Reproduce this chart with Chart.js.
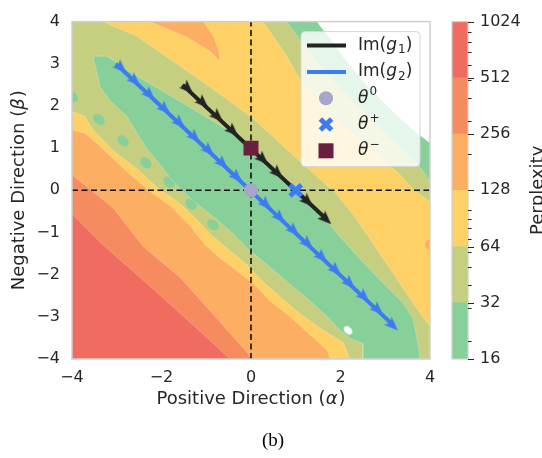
<!DOCTYPE html>
<html>
<head>
<meta charset="utf-8">
<script src="https://cdn.jsdelivr.net/npm/chart.js@4.4.1/dist/chart.umd.min.js"></script>
<style>
  html, body { margin: 0; padding: 0; background: #fff; overflow: hidden; }
  #wrap { position: relative; width: 542px; height: 458px; }
  #main { position: absolute; left: 0; top: 0; }
  #cbar { position: absolute; left: 440px; top: 0; }
</style>
</head>
<body>
<div id="wrap">
  <canvas id="main" width="542" height="458"></canvas>
  <canvas id="cbar" width="102" height="458"></canvas>
</div>
<script>
// perplexity levels of the filled contours (colorbar)
const levels = [16, 32, 64, 128, 256, 512, 1024];
const minorTicks = [20, 30, 40, 50, 60, 70, 80, 90, 100, 200, 300, 400, 500, 600, 700, 800, 900];

// contour edges, as [alpha, beta]
const edge512 = [[-4, -0.56], [-3.31, -1.29], [-2.26, -2.27], [-1.36, -3.13], [-0.47, -4]];
const edge256 = [[-4, 0.37], [-3.08, -0.42], [-2.41, -1.33], [-1.59, -2.06], [-0.92, -2.85], [-0.47, -3.39], [0.04, -4]];
const edge128 = [[-4, 1.43], [-3.71, 1.36], [-3.31, 0.98], [-2.77, 0.44], [-2.26, -0.02], [-1.77, -0.40], [-1.36, -0.84],
  [-1.03, -1.29], [-0.65, -1.64], [-0.25, -1.96], [0.09, -2.25], [0.42, -2.62], [0.87, -2.99], [1.47, -3.56], [1.70, -3.79], [1.77, -4]];
const patch128 = [[-2.26, 4], [-1.43, 3.63], [-0.92, 3.30], [-0.69, 3.06], [-0.72, 3.30], [-0.85, 3.68], [-1.07, 4]];
const edge64Low = [[-4, 1.87], [-3.71, 1.75], [-3.53, 1.43], [-3.08, 0.94], [-2.55, 0.51], [-2.10, 0.07], [-1.65, -0.26],
  [-1.25, -0.65], [-0.92, -1.03], [-0.51, -1.40], [-0.13, -1.73], [0.25, -2.15], [0.58, -2.46], [1.09, -2.92], [1.61, -3.32], [2.06, -3.60], [2.21, -4]];
const edge64High = [[-3.31, 4], [-2.55, 3.65], [-1.81, 3.11], [-1.07, 2.57], [-0.47, 2.11], [0.09, 1.66], [0.76, 1.01],
  [1.32, 0.47], [1.88, -0.05], [2.32, -0.63], [2.77, -1.33], [3.22, -2.04], [3.66, -2.74], [4, -3.23]];
const edge64Corner = [[0.27, 4], [0.54, 3.58], [0.80, 3.18], [1.09, 2.64], [1.54, 2.06], [2.10, 1.47], [2.77, 0.89], [3.33, 0.37], [3.66, 0], [4, -0.28]];
const edge32Low = [[-3.53, 3.18], [-3.37, 2.46], [-3.15, 2.13], [-2.77, 1.75], [-2.55, 1.36], [-2.32, 0.98], [-2.03, 0.61],
  [-1.74, 0.21], [-1.36, -0.19], [-0.92, -0.56], [-0.47, -0.96], [-0.07, -1.38], [0.42, -1.82], [0.87, -2.22], [1.32, -2.62],
  [1.70, -2.99], [1.99, -3.32], [2.21, -3.51], [2.50, -3.63], [2.50, -4]];
const edge32High = [[-3.53, 3.18], [-3.22, 3.18], [-2.55, 2.71], [-1.81, 2.25], [-1.07, 1.78], [-0.47, 1.40], [0.20, 0.84],
  [0.87, 0.19], [1.43, -0.40], [1.99, -1.10], [2.48, -1.68], [2.95, -2.20], [3.40, -2.67], [3.62, -3.04], [3.71, -3.51], [3.78, -4]];
const edge32Corner = [[0.80, 4], [1.09, 3.58], [1.43, 3.11], [1.88, 2.53], [2.44, 1.94], [2.99, 1.36], [3.44, 0.89], [3.78, 0.54], [4, 0.23]];
const edge16Corner = [[1.47, 4], [1.77, 3.58], [2.10, 3.11], [2.55, 2.53], [2.99, 2.06], [3.33, 1.71], [3.66, 1.40], [4, 1.12]];
const islands32 = [[-4, 2.22], [-3.40, 1.68], [-2.86, 1.17], [-2.35, 0.65], [-1.83, 0.19], [-1.34, -0.33], [-0.85, -0.82]];
const islands16 = [[2.17, -3.32]];
const islands128 = [[4, -1.29]];

// reference axes through theta^0
const zeroAlpha = [[0, -4], [0, 4]];
const zeroBeta = [[-4, 0], [4, 0]];

// Im(g1), Im(g2) paths and their arrow heads
const g1Path = [[-1.53, 2.5], [1.7, -0.7]];
const g1Arrows = [[-1.41, 2.41], [-1.07, 2.07], [-0.74, 1.74], [-0.40, 1.40], [0.27, 0.73], [0.60, 0.40], [1.27, -0.27], [1.68, -0.69]];
const g2Path = [[-3.02, 3.0], [3.2, -3.22]];
const g2Arrows = [[-2.90, 2.90], [-2.59, 2.59], [-2.26, 2.26], [-1.92, 1.92], [-1.59, 1.59], [-1.25, 1.25], [-0.94, 0.94],
  [-0.63, 0.63], [-0.31, 0.31], [0.34, -0.34], [0.65, -0.65], [0.96, -0.96], [1.27, -1.27], [1.59, -1.59], [1.90, -1.90],
  [2.21, -2.21], [2.53, -2.53], [2.84, -2.84], [3.17, -3.21]];

const theta0 = [[0, 0]];
const thetaPlus = [[1, 0]];
const thetaMinus = [[0, 1]];

const fontFamily = '"DejaVu Sans", sans-serif';
const ink = '#262626';
const bandColors = ['#88d09a', '#c6cf80', '#fed167', '#fcae63', '#f68b60', '#f16c60'];
const g1Color = '#232323';
const g2Color = '#3b7cf4';
const c0 = '#a7a5c8';
const cMinus = '#6b1f3e';

Chart.defaults.font.family = fontFamily;

const toPts = arr => arr.map(p => ({ x: p[0], y: p[1] }));
const corners = [[4, -4], [4, 4], [-4, 4]];
const plotBox = [[-4, -4], [4, -4], [4, 4], [-4, 4]];

function band(poly, color, order) {
  return {
    data: toPts(poly), showLine: true, fill: 'shape', backgroundColor: color,
    borderColor: 'rgba(255,255,255,0.35)', borderWidth: 0.6, pointRadius: 0, tension: 0, order: order
  };
}

function spots(pts, color, r, order) {
  return { data: toPts(pts), pointStyle: 'circle', pointRadius: r, backgroundColor: color, borderWidth: 0, order: order };
}

// oval pocket, long side along the valley
function oval(color, w, h) {
  const c = document.createElement('canvas');
  c.width = w; c.height = h;
  const g = c.getContext('2d');
  g.fillStyle = color;
  g.beginPath();
  g.ellipse(w / 2, h / 2, w / 2 - 0.3, h / 2 - 0.3, 0, 0, Math.PI * 2);
  g.fill();
  return c;
}

function pockets(pts, style, order) {
  return { data: toPts(pts), pointStyle: style, pointRotation: 43.7, pointRadius: 6, order: order };
}

// small dart used as the arrow head marker
function arrowHead(color) {
  const c = document.createElement('canvas');
  c.width = 14; c.height = 11;
  const g = c.getContext('2d');
  g.fillStyle = color;
  g.beginPath();
  g.moveTo(14, 5.5); g.lineTo(0, 0); g.lineTo(3, 5.5); g.lineTo(0, 11);
  g.closePath();
  g.fill();
  return c;
}

function arrows(pts, color) {
  return { data: toPts(pts), pointStyle: arrowHead(color), pointRotation: 43.7, pointRadius: 6, order: 5 };
}

function path(pts, color, width, dash, order) {
  return {
    data: toPts(pts), showLine: true, borderColor: color, borderWidth: width, borderDash: dash || [],
    pointRadius: 0, fill: false, order: order
  };
}

const minus = v => (v < 0 ? '\u2212' + Math.abs(v) : String(v));

const datasets = [
  band(plotBox, bandColors[5], 30),
  band(edge512.concat(corners), bandColors[4], 29),
  band(edge256.concat(corners), bandColors[3], 28),
  band(edge128.concat(corners), bandColors[2], 27),
  band(patch128, bandColors[3], 26),
  spots(islands128, bandColors[3], 5, 25),
  band(edge64Low.concat([[4, -4]], edge64High.slice().reverse(), [[-4, 4]]), bandColors[1], 24),
  band(edge64Corner.concat([[4, 4]]), bandColors[1], 23),
  pockets(islands32, oval(bandColors[0], 14, 10), 22),
  band(edge32Low.concat(edge32High.slice().reverse()), bandColors[0], 21),
  band(edge32Corner.concat([[4, 4]]), bandColors[0], 20),
  band(edge16Corner.concat([[4, 4]]), '#ffffff', 19),
  pockets(islands16, oval('#ffffff', 10, 7), 18),
  path(zeroAlpha, '#111111', 1.6, [6, 3.5], 12),
  path(zeroBeta, '#111111', 1.6, [6, 3.5], 12),
  path(g1Path, g1Color, 4, null, 8),
  path(g2Path, g2Color, 4, null, 8),
  arrows(g1Arrows, g1Color),
  arrows(g2Arrows, g2Color),
  { data: toPts(theta0), pointStyle: 'circle', pointRadius: 7, backgroundColor: c0, borderWidth: 0, order: 2 },
  { data: toPts(thetaPlus), pointStyle: 'crossRot', pointRadius: 8, borderColor: g2Color, borderWidth: 5, order: 1 },
  { data: toPts(thetaMinus), pointStyle: 'rect', pointRadius: 10.6, backgroundColor: cMinus, borderWidth: 0, order: 1 }
];

// rich text: [text, kind] where kind is '', 'i', 'sub' or 'sup'
function richFont(kind, size) {
  const small = kind === 'sub' || kind === 'sup';
  return (kind === 'i' ? 'italic ' : '') + (small ? Math.round(size * 0.7) : size) + 'px ' + fontFamily;
}

function richWidth(ctx, parts, size) {
  let w = 0;
  for (const [t, kind] of parts) {
    ctx.font = richFont(kind, size);
    w += ctx.measureText(t).width + (kind === 'i' ? 1 : 0);
  }
  return w;
}

function drawRich(ctx, parts, x, y, size) {
  for (const [t, kind] of parts) {
    ctx.font = richFont(kind, size);
    const dy = kind === 'sub' ? size * 0.27 : kind === 'sup' ? -size * 0.36 : 0;
    ctx.fillText(t, x, y + dy);
    x += ctx.measureText(t).width + (kind === 'i' ? 1 : 0);
  }
}

const legendRows = [
  { mark: 'line', color: g1Color, text: [['Im(', ''], ['g', 'i'], ['1', 'sub'], [')', '']] },
  { mark: 'line', color: g2Color, text: [['Im(', ''], ['g', 'i'], ['2', 'sub'], [')', '']] },
  { mark: 'circle', color: c0, text: [['\u03b8', 'i'], ['0', 'sup']] },
  { mark: 'cross', color: g2Color, text: [['\u03b8', 'i'], ['+', 'sup']] },
  { mark: 'square', color: cMinus, text: [['\u03b8', 'i'], ['\u2212', 'sup']] }
];

const xTitle = [['Positive Direction (', ''], ['\u03b1', 'i'], [')', '']];
const yTitle = [['Negative Direction (', ''], ['\u03b2', 'i'], [')', '']];

const decor = {
  id: 'decor',
  afterDraw(chart) {
    const { ctx, chartArea: a } = chart;
    ctx.save();
    // frame
    ctx.strokeStyle = '#cfcfcf';
    ctx.lineWidth = 1.5;
    ctx.strokeRect(a.left, a.top, a.right - a.left, a.bottom - a.top);

    // axis titles
    ctx.fillStyle = ink;
    ctx.textAlign = 'left';
    ctx.textBaseline = 'middle';
    const cx = (a.left + a.right) / 2;
    const wx = richWidth(ctx, xTitle, 18);
    drawRich(ctx, xTitle, cx - wx / 2, a.bottom + 40, 18);
    ctx.save();
    ctx.translate(19, (a.top + a.bottom) / 2);
    ctx.rotate(-Math.PI / 2);
    const wy = richWidth(ctx, yTitle, 18);
    drawRich(ctx, yTitle, -wy / 2, 0, 18);
    ctx.restore();

    // legend box
    const w = 119, h = 135;
    const lx = a.right - 10 - w, ly = a.top + 10;
    ctx.beginPath();
    ctx.roundRect(lx, ly, w, h, 4);
    ctx.fillStyle = 'rgba(255,255,255,0.8)';
    ctx.fill();
    ctx.strokeStyle = '#d6d6d6';
    ctx.lineWidth = 1;
    ctx.stroke();

    legendRows.forEach((row, i) => {
      const cy = ly + 14 + i * 26.3;
      const mx = lx + 25;
      if (row.mark === 'line') {
        ctx.strokeStyle = row.color;
        ctx.lineWidth = 4;
        ctx.beginPath();
        ctx.moveTo(lx + 6, cy); ctx.lineTo(lx + 45, cy);
        ctx.stroke();
      } else if (row.mark === 'circle') {
        ctx.fillStyle = row.color;
        ctx.beginPath();
        ctx.arc(mx, cy, 7, 0, Math.PI * 2);
        ctx.fill();
      } else if (row.mark === 'cross') {
        ctx.strokeStyle = row.color;
        ctx.lineWidth = 5;
        ctx.beginPath();
        ctx.moveTo(mx - 5.6, cy - 5.6); ctx.lineTo(mx + 5.6, cy + 5.6);
        ctx.moveTo(mx + 5.6, cy - 5.6); ctx.lineTo(mx - 5.6, cy + 5.6);
        ctx.stroke();
      } else {
        ctx.fillStyle = row.color;
        ctx.fillRect(mx - 7.5, cy - 7.5, 15, 15);
      }
      ctx.fillStyle = ink;
      ctx.textBaseline = 'middle';
      ctx.textAlign = 'left';
      drawRich(ctx, row.text, lx + 57, cy, 17);
    });

    // sub-figure caption
    ctx.fillStyle = '#000';
    ctx.font = '19px "Liberation Serif", serif';
    ctx.textAlign = 'center';
    ctx.textBaseline = 'middle';
    ctx.fillText('(b)', 273, 441);
    ctx.restore();
  }
};

new Chart(document.getElementById('main'), {
  type: 'scatter',
  data: { datasets: datasets },
  options: {
    responsive: false,
    animation: false,
    events: [],
    layout: { padding: { left: 0, top: 17, right: 112, bottom: 48 } },
    plugins: { legend: { display: false }, tooltip: { enabled: false } },
    scales: {
      x: {
        type: 'linear', min: -4, max: 4,
        grid: { display: false, drawTicks: false },
        border: { display: false },
        ticks: { stepSize: 2, padding: 9, color: ink, font: { size: 16 }, callback: minus },
        afterFit: s => { s.height = 51; }
      },
      y: {
        type: 'linear', min: -4, max: 4,
        grid: { display: false, drawTicks: false },
        border: { display: false },
        ticks: { stepSize: 1, padding: 12, color: ink, font: { size: 16 }, callback: minus },
        afterFit: s => { s.width = 72; }
      }
    }
  },
  plugins: [decor]
});

// colorbar: one floating bar per contour level, on a log axis
const cbarDecor = {
  id: 'cbarDecor',
  afterDraw(chart) {
    const { ctx, chartArea: a } = chart;
    const s = chart.scales.y;
    ctx.save();
    ctx.strokeStyle = '#cfcfcf';
    ctx.lineWidth = 1.2;
    ctx.strokeRect(a.left, a.top, a.right - a.left, a.bottom - a.top);
    ctx.strokeStyle = ink;
    ctx.lineWidth = 1;
    const tick = (v, len) => {
      const y = Math.round(s.getPixelForValue(v)) + 0.5;
      ctx.beginPath();
      ctx.moveTo(a.right, y); ctx.lineTo(a.right + len, y);
      ctx.stroke();
    };
    levels.forEach(v => tick(v, 6));
    minorTicks.forEach(v => tick(v, 3.5));
    ctx.translate(103, (a.top + a.bottom) / 2);
    ctx.rotate(-Math.PI / 2);
    ctx.fillStyle = ink;
    ctx.font = '18px ' + fontFamily;
    ctx.textAlign = 'center';
    ctx.textBaseline = 'alphabetic';
    ctx.fillText('Perplexity', 0, 0);
    ctx.restore();
  }
};

new Chart(document.getElementById('cbar'), {
  type: 'bar',
  data: {
    labels: [''],
    datasets: bandColors.map((c, i) => ({
      data: [[levels[i], levels[i + 1]]], backgroundColor: c, borderWidth: 0, barPercentage: 1, categoryPercentage: 1
    }))
  },
  options: {
    responsive: false,
    animation: false,
    events: [],
    layout: { padding: { left: 12, top: 17, right: 0, bottom: 99 } },
    plugins: { legend: { display: false }, tooltip: { enabled: false } },
    scales: {
      x: { display: false, stacked: true },
      y: {
        type: 'logarithmic', position: 'right', min: 16, max: 1024, stacked: false,
        grid: { display: false, drawTicks: false },
        border: { display: false },
        ticks: {
          autoSkip: false, padding: 12, color: ink, font: { size: 16 },
          callback: v => (levels.includes(v) ? String(v) : '')
        },
        afterBuildTicks: s => {
          s.ticks = levels.concat(minorTicks).sort((p, q) => p - q).map(v => ({ value: v }));
        },
        afterFit: s => { s.width = 74; }
      }
    }
  },
  plugins: [cbarDecor]
});
</script>
</body>
</html>
